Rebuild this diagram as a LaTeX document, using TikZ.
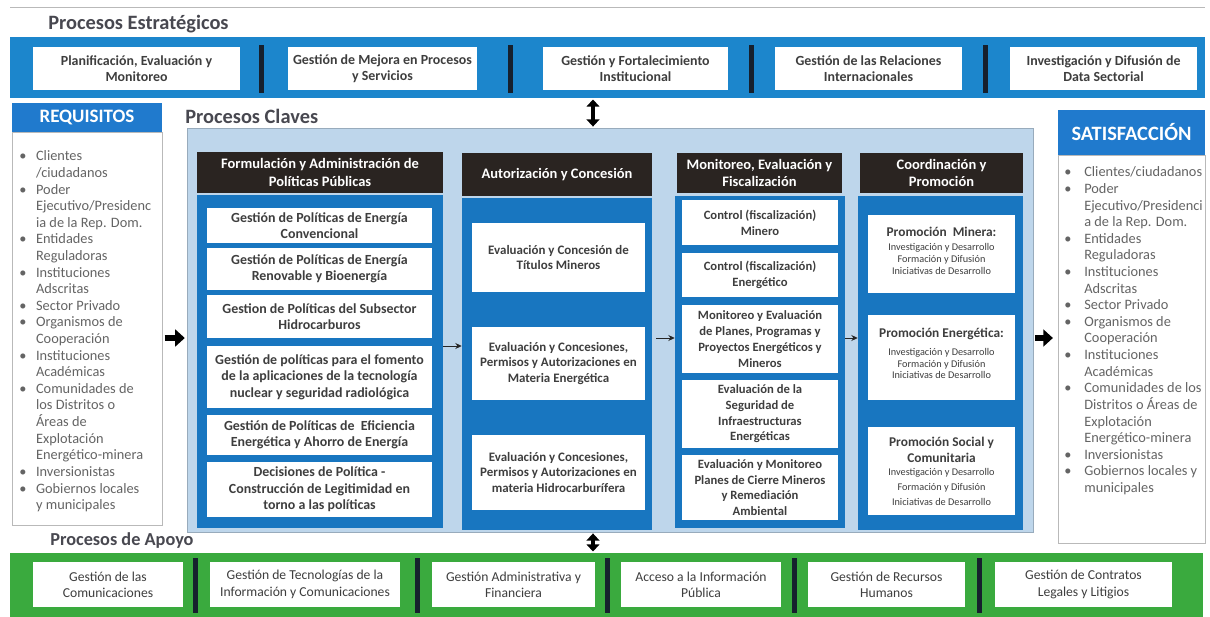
\documentclass[tikz,border=0pt]{standalone}
\usepackage{fontspec}
\setmainfont{Carlito}
\usepackage{tikz}
\usetikzlibrary{arrows.meta, positioning}
\definecolor{bandblue}{RGB}{28,134,204}
\definecolor{colblue}{RGB}{24,118,192}
\definecolor{paleblue}{RGB}{190,214,235}
\definecolor{headdark}{RGB}{42,36,33}
\definecolor{apoyogreen}{RGB}{58,170,62}
\definecolor{barnavy}{RGB}{22,32,45}
\definecolor{textgray}{RGB}{62,62,62}
\definecolor{titlegray}{RGB}{72,72,80}
\definecolor{listgray}{RGB}{100,100,100}
\definecolor{reqblue}{RGB}{32,122,205}
\definecolor{framegray}{RGB}{185,185,185}

\begin{document}
\begin{tikzpicture}[
  x=0.025cm, y=-0.025cm,
  span/.style n args={4}{at={({(#1+#3)/2},{(#2+#4)/2})}, minimum width={(#3-#1)*0.025cm}, minimum height={(#4-#2)*0.025cm}},
  band/.style={rectangle, inner sep=0pt},
  sepbar/.style={rectangle, fill=barnavy, inner sep=0pt},
  proc/.style={rectangle, fill=white, inner sep=0pt, align=center, text=textgray, font=\fontsize{9.9}{11.6}\selectfont\bfseries},
  apoyo/.style={proc, font=\fontsize{9.7}{11.6}\selectfont},
  colhead/.style={rectangle, fill=headdark, inner sep=0pt, align=center, text=white, font=\fontsize{10.3}{12.2}\selectfont\bfseries},
  colbody/.style={rectangle, fill=colblue, inner sep=0pt},
  sectitle/.style={anchor=west, inner sep=0pt, text=titlegray, font=\fontsize{14.5}{16}\selectfont\bfseries},
  sidehead/.style={rectangle, fill=reqblue, inner sep=0pt, text=white, font=\fontsize{13.5}{15}\selectfont\bfseries},
  sidebody/.style={rectangle, fill=white, draw=framegray, inner sep=0pt},
  listtext/.style={anchor=north west, inner sep=0pt, text=listgray, font=\fontsize{10.2}{11.8}\selectfont},
  ptitle/.style={inner sep=1pt, text=textgray, align=center, font=\fontsize{9.5}{11.5}\selectfont\bfseries},
  psub/.style={inner sep=1pt, text=textgray, align=center, font=\fontsize{7.3}{8.4}\selectfont},
  bigarrow/.style={draw=black, line width=1.6mm, -{Triangle[length=2.4mm, width=4.2mm]}},
  smallarrow/.style={draw=black!85, line width=0.7pt, -{Stealth[length=1.6mm, width=1.5mm]}},
  dblarrow/.style={draw=black, line width=1mm, {Triangle[length=1.8mm, width=3.2mm]}-{Triangle[length=1.8mm, width=3.2mm]}}
]
\useasboundingbox (0,0) rectangle (1210,617);
\draw[framegray, line width=0.5pt] (10,7) -- (1205,7);

% estrategicos
\node[sectitle] (estrat) at (48,24) {Procesos Estratégicos};
\node[band, fill=bandblue, span={10}{37}{1205}{98}] (topband) {};
\node[proc, span={33}{47}{240}{90}] (plan) {Planificación, Evaluación y\\Monitoreo};
\node[proc, span={288}{47}{477}{90}] (mejora) {Gestión de Mejora en Procesos\\y Servicios};
\node[proc, span={543}{47}{728}{90}] (fortal) {Gestión y Fortalecimiento\\Institucional};
\node[proc, span={775}{47}{962}{90}] (relac) {Gestión de las Relaciones\\Internacionales};
\node[proc, span={1010}{47}{1197}{90}] (invest) {Investigación y Difusión de\\Data Sectorial};
\node[sepbar, span={259}{45}{264}{93}] (tsep1) {};
\node[sepbar, span={508}{45}{513}{93}] (tsep2) {};
\node[sepbar, span={749}{45}{754}{93}] (tsep3) {};
\node[sepbar, span={983}{45}{988}{93}] (tsep4) {};

% requisitos
\node[sidehead, span={12}{103}{162}{132}] (reqhead) {REQUISITOS};
\node[sidebody, span={12}{132}{162}{525}] (reqbody) {};
\node[listtext] (reqlist) at (19,149) {\begin{tabular}{@{}p{0.42cm}@{}l@{}}
\textbullet & Clientes\\
 & /ciudadanos\\
\textbullet & Poder\\
 & Ejecutivo/Presidenc\\
 & ia de la Rep. Dom.\\
\textbullet & Entidades\\
 & Reguladoras\\
\textbullet & Instituciones\\
 & Adscritas\\
\textbullet & Sector Privado\\
\textbullet & Organismos de\\
 & Cooperación\\
\textbullet & Instituciones\\
 & Académicas\\
\textbullet & Comunidades de\\
 & los Distritos o\\
 & Áreas de\\
 & Explotación\\
 & Energético-minera\\
\textbullet & Inversionistas\\
\textbullet & Gobiernos locales\\
 & y municipales
\end{tabular}};

% claves
\node[sectitle] (clavtitle) at (185,116) {Procesos Claves};
\node[rectangle, fill=paleblue, draw=paleblue!80!black, line width=0.3pt, inner sep=0pt, span={187}{128}{1033}{532}] (claves) {};

\node[colhead, span={197}{152}{443}{193}] (formhead) {Formulación y Administración de\\Políticas Públicas};
\node[colbody, span={197}{195}{443}{528}] (formbody) {};
\node[proc, span={207}{208}{432}{243}] (conv) {Gestión de Políticas de Energía\\Convencional};
\node[proc, span={207}{248}{432}{290}] (renov) {Gestión de Políticas de Energía\\Renovable y Bioenergía};
\node[proc, span={207}{295}{432}{338}] (hidro) {Gestion de Políticas del Subsector\\Hidrocarburos};
\node[proc, span={207}{346}{432}{408}] (nucl) {Gestión de políticas para el fomento\\de la aplicaciones de la tecnología\\nuclear y seguridad radiológica};
\node[proc, span={207}{415}{432}{455}] (efic) {Gestión de Políticas de\ \ Eficiencia\\Energética y Ahorro de Energía};
\node[proc, span={207}{462}{432}{517}] (legit) {Decisiones de Política -\\Construcción de Legitimidad en\\torno a las políticas};

\node[colhead, span={462}{153}{652}{196}] (autohead) {Autorización y Concesión};
\node[colbody, span={462}{198}{652}{530}] (autobody) {};
\node[proc, font=\fontsize{9.2}{11.2}\selectfont\bfseries, span={472}{223}{645}{292}] (titulos) {Evaluación y Concesión de\\Títulos Mineros};
\node[proc, font=\fontsize{9.2}{11.2}\selectfont\bfseries, span={472}{327}{645}{400}] (permener) {Evaluación y Concesiones,\\Permisos y Autorizaciones en\\Materia Energética};
\node[proc, font=\fontsize{9.2}{11.2}\selectfont\bfseries, span={472}{435}{645}{510}] (permhidro) {Evaluación y Concesiones,\\Permisos y Autorizaciones en\\materia Hidrocarburífera};

\node[colhead, span={677}{153}{842}{193}] (monihead) {Monitoreo, Evaluación y\\Fiscalización};
\node[colbody, span={675}{196}{845}{528}] (monibody) {};
\node[proc, font=\fontsize{9}{11.2}\selectfont\bfseries, span={682}{200}{838}{245}] (ctrlmin) {Control (fiscalización)\\Minero};
\node[proc, font=\fontsize{9}{11.2}\selectfont\bfseries, span={682}{253}{838}{297}] (ctrlener) {Control (fiscalización)\\Energético};
\node[proc, font=\fontsize{9}{11.2}\selectfont\bfseries, span={682}{305}{838}{373}] (planes) {Monitoreo y Evaluación\\de Planes, Programas y\\Proyectos Energéticos y\\Mineros};
\node[proc, font=\fontsize{9}{11.2}\selectfont\bfseries, span={682}{380}{838}{448}] (segur) {Evaluación de la\\Seguridad de\\Infraestructuras\\Energéticas};
\node[proc, font=\fontsize{9}{11.2}\selectfont\bfseries, span={682}{455}{838}{520}] (cierre) {Evaluación y Monitoreo\\Planes de Cierre Mineros\\y Remediación\\Ambiental};

\node[colhead, span={860}{153}{1023}{193}] (coorhead) {Coordinación y\\Promoción};
\node[colbody, span={858}{196}{1023}{530}] (coorbody) {};
\node[proc, span={868}{215}{1015}{293}] (promin) {};
\node[ptitle, below=0.26cm of promin.north] (promin-t) {Promoción\ \ Minera:};
\node[psub, below=0.1cm of promin-t] (promin-s) {Investigación y Desarrollo\\Formación y Difusión\\Iniciativas de Desarrollo};
\node[proc, span={868}{315}{1015}{400}] (proener) {};
\node[ptitle, below=0.3cm of proener.north] (proener-t) {Promoción Energética:};
\node[psub, below=0.12cm of proener-t] (proener-s) {Investigación y Desarrollo\\Formación y Difusión\\Iniciativas de Desarrollo};
\node[proc, span={868}{427}{1015}{515}] (prosoc) {};
\node[ptitle, below=0.22cm of prosoc.north] (prosoc-t) {Promoción Social y\\Comunitaria};
\node[psub, font=\fontsize{7.3}{10.5}\selectfont, below=0.06cm of prosoc-t] (prosoc-s) {Investigación y Desarrollo\\Formación y Difusión\\Iniciativas de Desarrollo};

% satisfaccion
\node[sidehead, font=\fontsize{14.5}{16}\selectfont\bfseries, span={1058}{110}{1205}{155}] (sathead) {SATISFACCIÓN};
\node[sidebody, span={1058}{155}{1205}{543}] (satbody) {};
\node[listtext] (satlist) at (1064,165) {\begin{tabular}{@{}p{0.5cm}@{}l@{}}
\textbullet & Clientes/ciudadanos\\
\textbullet & Poder\\
 & Ejecutivo/Presidenci\\
 & a de la Rep. Dom.\\
\textbullet & Entidades\\
 & Reguladoras\\
\textbullet & Instituciones\\
 & Adscritas\\
\textbullet & Sector Privado\\
\textbullet & Organismos de\\
 & Cooperación\\
\textbullet & Instituciones\\
 & Académicas\\
\textbullet & Comunidades de los\\
 & Distritos o Áreas de\\
 & Explotación\\
 & Energético-minera\\
\textbullet & Inversionistas\\
\textbullet & Gobiernos locales y\\
 & municipales
\end{tabular}};

% apoyo
\node[sectitle, font=\fontsize{13}{15}\selectfont\bfseries] (apoyotitle) at (50,541) {Procesos de Apoyo};
\node[band, fill=apoyogreen, span={10}{553}{1203}{617}] (apoyoband) {};
\node[apoyo, span={33}{562}{183}{607}] (comun) {Gestión de las\\Comunicaciones};
\node[apoyo, span={210}{562}{400}{607}] (tic) {Gestión de Tecnologías de la\\Información y Comunicaciones};
\node[apoyo, span={432}{562}{595}{607}] (admin) {Gestión Administrativa y\\Financiera};
\node[apoyo, span={621}{562}{781}{607}] (acceso) {Acceso a la Información\\Pública};
\node[apoyo, span={808}{562}{965}{607}] (rrhh) {Gestión de Recursos\\Humanos};
\node[apoyo, span={995}{562}{1172}{607}] (legal) {Gestión de Contratos\\Legales y Litigios};
\node[sepbar, span={193}{558}{198}{613}] (bsep1) {};
\node[sepbar, span={415}{558}{420}{613}] (bsep2) {};
\node[sepbar, span={605}{558}{610}{613}] (bsep3) {};
\node[sepbar, span={792}{558}{797}{613}] (bsep4) {};
\node[sepbar, span={977}{558}{982}{613}] (bsep5) {};

% flechas
\coordinate (bigrow) at (600,338);
\coordinate (smallrow) at (600,346);
\coordinate (vaxis) at (593,300);
\path[bigarrow, shorten <=0.6mm, shorten >=0.5mm] (reqbody.east |- bigrow) -- (claves.west |- bigrow);
\path[bigarrow, shorten <=0.5mm, shorten >=1.2mm] (claves.east |- bigrow) -- (satbody.west |- bigrow);
\path[smallarrow] (formbody.east |- smallrow) -- (autobody.west |- smallrow);
\path[smallarrow, shorten <=1mm] (autobody.east |- bigrow) -- (monibody.west |- bigrow);
\path[smallarrow] (monibody.east |- bigrow) -- (coorbody.west |- bigrow);
\path[dblarrow, shorten <=0.3mm, shorten >=0.3mm] (topband.south -| vaxis) -- (claves.north -| vaxis);
\path[dblarrow, shorten <=0.3mm, shorten >=0.3mm] (claves.south -| vaxis) -- (apoyoband.north -| vaxis);

\end{tikzpicture}
\end{document}
